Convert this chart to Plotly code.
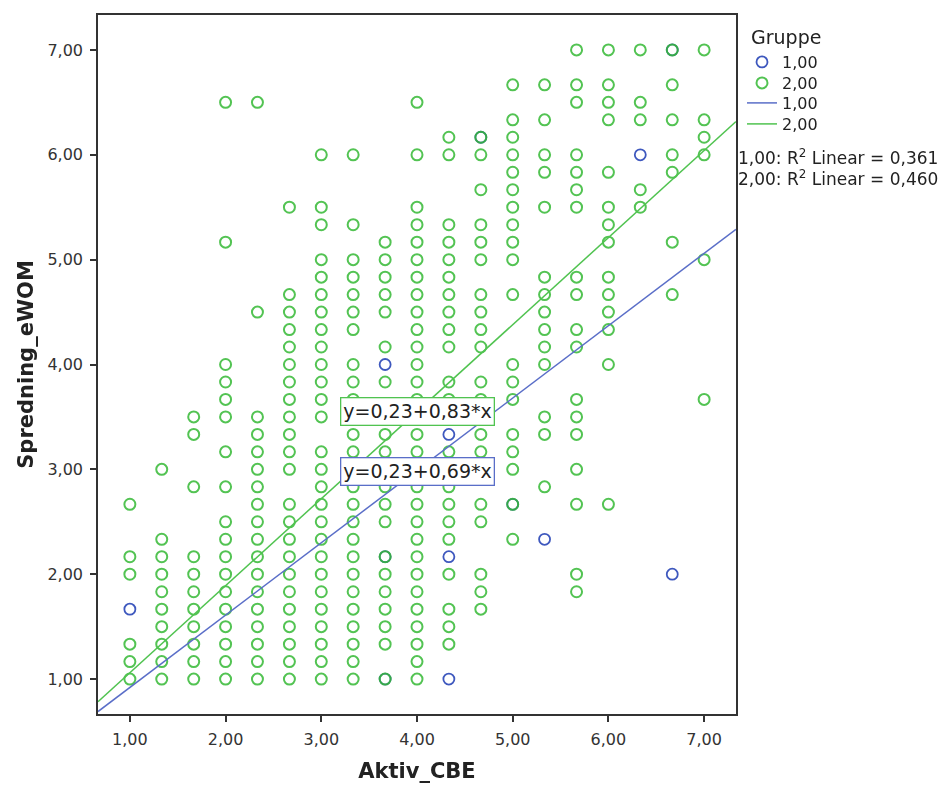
import plotly.graph_objects as go

# ---- data ----
aktiv_levels = [1.0, 1.333, 1.667, 2.0, 2.333, 2.667, 3.0, 3.333, 3.667, 4.0,
                4.333, 4.667, 5.0, 5.333, 5.667, 6.0, 6.333, 6.667, 7.0]

# Spredning_eWOM values observed for group 2,00 at each Aktiv_CBE level
green_spredning = [
    [1.0, 1.167, 1.333, 2.0, 2.167, 2.667],
    [1.0, 1.167, 1.333, 1.5, 1.667, 1.833, 2.0, 2.167, 2.333, 3.0],
    [1.0, 1.167, 1.333, 1.5, 1.667, 1.833, 2.0, 2.167, 2.833, 3.333, 3.5],
    [1.0, 1.167, 1.333, 1.5, 1.667, 1.833, 2.0, 2.167, 2.333, 2.5, 2.833, 3.167,
     3.5, 3.667, 3.833, 4.0, 5.167, 6.5],
    [1.0, 1.167, 1.333, 1.5, 1.667, 1.833, 2.0, 2.167, 2.333, 2.5, 2.667, 2.833,
     3.0, 3.167, 3.333, 3.5, 4.5, 6.5],
    [1.0, 1.167, 1.333, 1.5, 1.667, 1.833, 2.0, 2.167, 2.333, 2.5, 2.667, 3.0,
     3.167, 3.333, 3.5, 3.667, 3.833, 4.0, 4.167, 4.333, 4.5, 4.667, 5.5],
    [1.0, 1.167, 1.333, 1.5, 1.667, 1.833, 2.0, 2.167, 2.333, 2.5, 2.667, 2.833,
     3.0, 3.167, 3.5, 3.667, 3.833, 4.0, 4.167, 4.333, 4.5, 4.667, 4.833, 5.0,
     5.333, 5.5, 6.0],
    [1.0, 1.167, 1.333, 1.5, 1.667, 1.833, 2.0, 2.167, 2.333, 2.5, 2.667, 2.833,
     3.167, 3.333, 3.667, 3.833, 4.0, 4.333, 4.5, 4.667, 4.833, 5.0, 5.333, 6.0],
    [1.0, 1.333, 1.5, 1.667, 1.833, 2.0, 2.167, 2.5, 2.667, 2.833, 3.167, 3.333,
     3.833, 4.167, 4.5, 4.667, 4.833, 5.0, 5.167],
    [1.0, 1.167, 1.333, 1.5, 1.667, 1.833, 2.0, 2.167, 2.333, 2.5, 2.667, 2.833,
     3.167, 3.333, 3.667, 3.833, 4.0, 4.167, 4.333, 4.5, 4.667, 4.833, 5.0,
     5.167, 5.333, 5.5, 6.0, 6.5],
    [1.333, 1.5, 1.667, 2.0, 2.333, 2.5, 2.667, 2.833, 3.167, 3.667, 3.833,
     4.167, 4.333, 4.5, 4.667, 4.833, 5.0, 5.167, 5.333, 6.0, 6.167],
    [1.667, 1.833, 2.0, 2.5, 2.667, 3.167, 3.333, 3.667, 3.833, 4.167, 4.333,
     4.5, 4.667, 5.0, 5.167, 5.333, 5.667, 6.0, 6.167],
    [2.333, 2.667, 3.0, 3.167, 3.333, 3.667, 3.833, 4.0, 4.667, 5.0, 5.167,
     5.333, 5.5, 5.667, 5.833, 6.0, 6.167, 6.333, 6.667],
    [2.833, 3.333, 3.5, 4.0, 4.167, 4.333, 4.5, 4.667, 4.833, 5.5, 5.833, 6.0,
     6.333, 6.667],
    [1.833, 2.0, 2.667, 3.0, 3.333, 3.5, 3.667, 4.167, 4.333, 4.667, 4.833, 5.5,
     5.667, 5.833, 6.0, 6.5, 6.667, 7.0],
    [2.667, 4.0, 4.333, 4.5, 4.667, 4.833, 5.167, 5.333, 5.5, 5.833, 6.333, 6.5,
     6.667, 7.0],
    [5.5, 5.667, 6.333, 6.5, 7.0],
    [4.667, 5.167, 5.833, 6.0, 6.333, 6.667, 7.0],
    [3.667, 5.0, 6.0, 6.167, 6.333, 7.0],
]

# group 1,00 observations
blue_aktiv = [1.0, 3.667, 3.667, 3.667, 4.333, 4.333, 4.333, 4.667, 5.0, 5.333,
              6.333, 6.667, 6.667]
blue_spredning = [1.667, 4.0, 2.167, 1.0, 3.333, 2.167, 1.0, 6.167, 2.667, 2.333,
                  6.0, 2.0, 7.0]

# linear fits (intercept, slope) and R^2
fit_groups = ["1,00", "2,00"]
fit_intercepts = [0.23, 0.23]
fit_slopes = [0.69, 0.83]
fit_r2 = ["0,361", "0,460"]

x_ticks = [1, 2, 3, 4, 5, 6, 7]
x_ticktext = ["1,00", "2,00", "3,00", "4,00", "5,00", "6,00", "7,00"]
y_ticks = [1, 2, 3, 4, 5, 6, 7]
y_ticktext = ["1,00", "2,00", "3,00", "4,00", "5,00", "6,00", "7,00"]

X_RANGE = [0.667, 7.333]
Y_RANGE = [0.667, 7.333]

# ---- styles ----
BLUE = "rgb(62,88,190)"
GREEN = "rgb(52,185,52)"
BLUE_LINE = "rgb(90,110,200)"
GREEN_LINE = "rgb(80,195,80)"
FONT = "DejaVu Sans"

# plot area in px: x 98..736, y 15..714
PLOT_TOP, PLOT_BOTTOM, PLOT_LEFT, PLOT_RIGHT = 15, 714, 98, 736


def py_to_paper(py):
    return (PLOT_BOTTOM - py) / (PLOT_BOTTOM - PLOT_TOP)


def px_to_paper(px):
    return (px - PLOT_LEFT) / (PLOT_RIGHT - PLOT_LEFT)


green_x, green_y = [], []
for xv, ys in zip(aktiv_levels, green_spredning):
    for yv in ys:
        green_x.append(xv)
        green_y.append(yv)

fig = go.Figure()
fig.add_trace(go.Scatter(
    x=blue_aktiv, y=blue_spredning, mode="markers", name="1,00", legend="legend",
    marker=dict(symbol="circle-open", size=11, color=BLUE, line=dict(width=1.8, color=BLUE)),
))
fig.add_trace(go.Scatter(
    x=green_x, y=green_y, mode="markers", name="2,00", opacity=0.85, legend="legend2",
    marker=dict(symbol="circle-open", size=11, color=GREEN, line=dict(width=2, color=GREEN)),
))
line_colors = [BLUE_LINE, GREEN_LINE]
line_legends = ["legend3", "legend4"]
for g, b0, b1, c, lg in zip(fit_groups, fit_intercepts, fit_slopes, line_colors, line_legends):
    fig.add_trace(go.Scatter(
        x=X_RANGE, y=[b0 + b1 * X_RANGE[0], b0 + b1 * X_RANGE[1]],
        mode="lines", name=g, line=dict(color=c, width=1.5), legend=lg,
    ))

# equation labels
label_y = [2.981, 3.552]
label_colors = [BLUE_LINE, GREEN_LINE]
for b0, b1, ly, c in zip(fit_intercepts, fit_slopes, label_y, label_colors):
    txt = "y=" + f"{b0:.2f}".replace(".", ",") + "+" + f"{b1:.2f}".replace(".", ",") + "*x"
    fig.add_annotation(x=4.0, y=ly, xref="x", yref="y", text=txt, showarrow=False,
                       font=dict(family=FONT, size=19, color="#222"),
                       bgcolor="white", bordercolor=c, borderwidth=1.3, borderpad=2)

# legend title
fig.add_annotation(x=px_to_paper(749), y=py_to_paper(37), xref="paper", yref="paper",
                   xanchor="left", yanchor="middle", showarrow=False, text="Gruppe",
                   font=dict(family=FONT, size=19, color="#222"))

# R^2 text
r2_py = [157, 178]
for g, r2, py in zip(fit_groups, fit_r2, r2_py):
    fig.add_annotation(x=px_to_paper(736), y=py_to_paper(py), xref="paper", yref="paper",
                       xanchor="left", yanchor="middle", showarrow=False,
                       text=f"{g}: R<sup>2</sup> Linear = {r2}",
                       font=dict(family=FONT, size=17, color="#222"))

axis_common = dict(
    showgrid=False, zeroline=False, showline=True, mirror=True, automargin=False,
    linecolor="#333", linewidth=1.5, ticks="outside", ticklen=6,
    tickcolor="#333", tickwidth=1.5, ticklabelstandoff=4,
    tickfont=dict(family=FONT, size=16, color="#333"),
)

legend_common = dict(xanchor="left", yanchor="middle", bgcolor="rgba(0,0,0,0)",
                     font=dict(family=FONT, size=16, color="#222"), itemwidth=30,
                     borderwidth=0)
legend_py = [62, 83, 103, 124]
lx = px_to_paper(742)

fig.update_layout(
    width=941, height=785,
    margin=dict(l=98, r=205, t=15, b=71, autoexpand=False),
    paper_bgcolor="white", plot_bgcolor="white",
    font=dict(family=FONT, color="#222"),
    showlegend=True,
    legend=dict(x=lx, y=py_to_paper(legend_py[0]), **legend_common),
    legend2=dict(x=lx, y=py_to_paper(legend_py[1]), **legend_common),
    legend3=dict(x=lx, y=py_to_paper(legend_py[2]), **legend_common),
    legend4=dict(x=lx, y=py_to_paper(legend_py[3]), **legend_common),
    xaxis=dict(range=X_RANGE, tickvals=x_ticks, ticktext=x_ticktext,
               title=dict(text="<b>Aktiv_CBE</b>", font=dict(family=FONT, size=21, color="#222"),
                          standoff=15),
               **axis_common),
    yaxis=dict(range=Y_RANGE, tickvals=y_ticks, ticktext=y_ticktext,
               title=dict(text="<b>Spredning_eWOM</b>", font=dict(family=FONT, size=21, color="#222"),
                          standoff=8),
               **axis_common),
)

fig.write_html("out.html", config={"displayModeBar": False},
               post_script="document.body.style.margin='0';document.body.style.overflow='hidden';")
